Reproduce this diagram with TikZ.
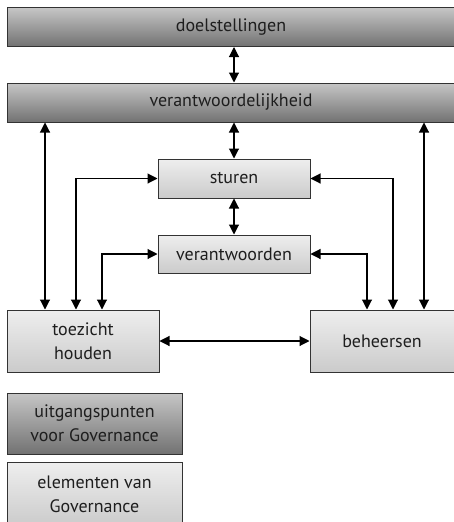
\documentclass[tikz,border=0pt]{standalone}
\usepackage{fontspec}
\setmainfont{PT Sans}
\usetikzlibrary{arrows.meta,shadings}
\definecolor{edge}{HTML}{333333}
\definecolor{darktop}{HTML}{C6C6C6}
\definecolor{darkbot}{HTML}{727272}
\definecolor{lighttop}{HTML}{EEEEEE}
\definecolor{lightbot}{HTML}{CBCBCB}
\definecolor{txt}{HTML}{1E1E1E}
\tikzset{
  basebox/.style={draw=edge, line width=1pt, rectangle, inner sep=0pt, align=center,
    text=txt, font=\fontsize{18}{24}\selectfont},
  darkbox/.style={basebox, top color=darktop, bottom color=darkbot},
  lightbox/.style={basebox, top color=lighttop, bottom color=lightbot},
  arr/.style={draw=black, line width=1.1pt, {Triangle[length=10pt,width=10pt]}-{Triangle[length=10pt,width=10pt]}},
}
\begin{document}
\begin{tikzpicture}[x=1pt,y=-1pt]
\useasboundingbox (0,0) rectangle (454,522);
\node[darkbox, minimum width=455pt, minimum height=39pt] (doel) at (234.5,27) {\hspace*{-7pt}doelstellingen};
\node[darkbox, minimum width=455pt, minimum height=39pt] (verant) at (234.5,102.5) {\hspace*{-7pt}verantwoordelijkheid};
\node[lightbox, minimum width=152pt, minimum height=39pt] (sturen) at (234,178.5) {sturen};
\node[lightbox, minimum width=152pt, minimum height=38pt] (verw) at (234,254) {verantwoorden};
\node[lightbox, minimum width=152pt, minimum height=62pt] (toez) at (83,341) {toezicht\\houden};
\node[lightbox, minimum width=150pt, minimum height=62pt] (beh) at (385,341) {beheersen\hspace*{6pt}};
\node[darkbox, minimum width=175pt, minimum height=61pt] (leg1) at (94.5,423.5) {uitgangspunten\\voor Governance};
\node[lightbox, minimum width=175pt, minimum height=64pt] (leg2) at (94.5,494) {elementen van\\Governance};
\coordinate (xa) at (45,0);
\coordinate (xb) at (76,0);
\coordinate (xc) at (102,0);
\coordinate (xd) at (367,0);
\coordinate (xe) at (393,0);
\coordinate (xf) at (424,0);
\draw[arr] (doel.south -| sturen.center) -- (verant.north -| sturen.center);
\draw[arr] (verant.south -| sturen.center) -- (sturen.north);
\draw[arr] (sturen.south) -- (verw.north);
\draw[arr] (verant.south -| xa) -- (toez.north -| xa);
\draw[arr] (verant.south -| xf) -- (beh.north -| xf);
\draw[arr] (sturen.west) -| (toez.north -| xb);
\draw[arr] (verw.west) -| (toez.north -| xc);
\draw[arr] (sturen.east) -| (beh.north -| xe);
\draw[arr] (verw.east) -| (beh.north -| xd);
\draw[arr] (toez.east) -- (beh.west);
\end{tikzpicture}
\end{document}
